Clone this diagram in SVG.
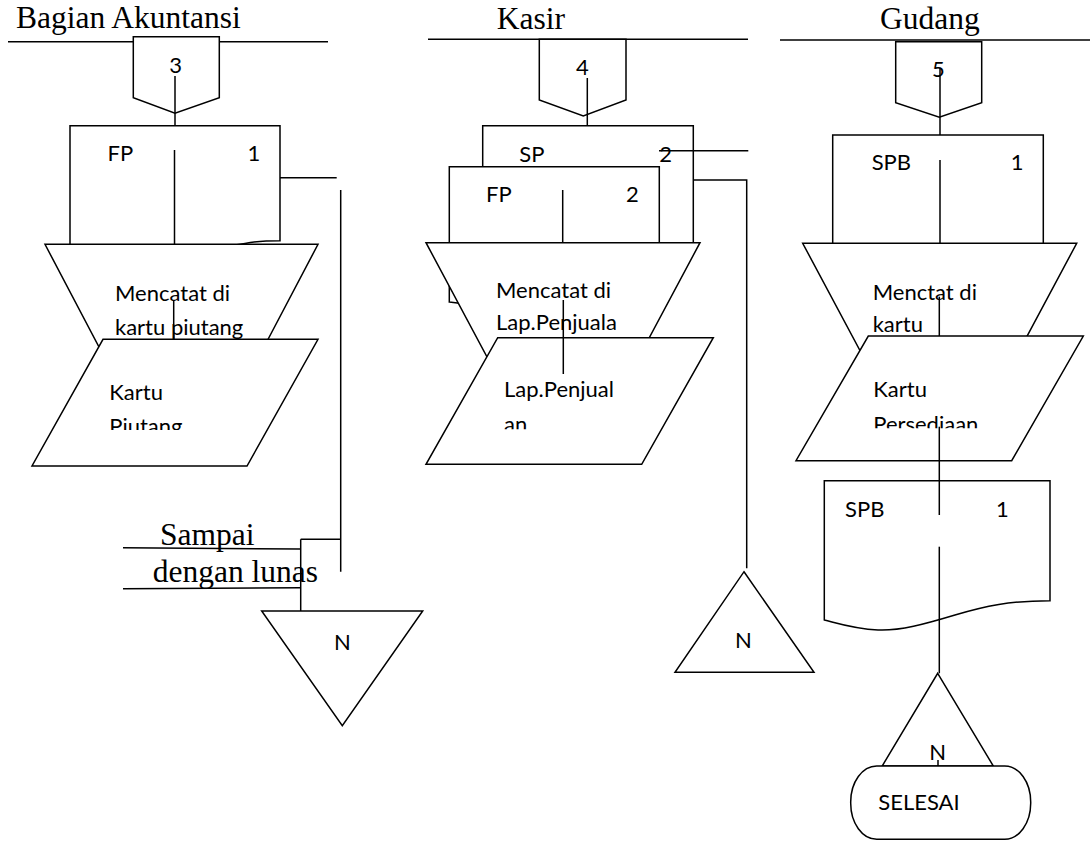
<svg xmlns="http://www.w3.org/2000/svg" width="1090" height="841" viewBox="0 0 1090 841">
<style>
.s{fill:#fff;stroke:#000;stroke-width:1.5}
.l{fill:none;stroke:#000;stroke-width:1.5}
.serif{font-family:"Liberation Serif","Times New Roman",serif;font-size:31.5px;fill:#000}
.sans{font-family:Lato,"Open Sans",sans-serif;font-size:22px;fill:#000}
.mid{text-anchor:middle}
</style>
<defs>
<clipPath id="c1"><rect x="30" y="340" width="290" height="90"/></clipPath>
<clipPath id="c2"><rect x="430" y="338" width="290" height="91.3"/></clipPath>
<clipPath id="c3"><rect x="800" y="337" width="290" height="91.3"/></clipPath>
</defs>
<rect width="1090" height="841" fill="#fff"/>

<g id="headers">
<text class="serif" x="16" y="28.3">Bagian Akuntansi</text>
<line class="l" x1="8" y1="41.7" x2="328" y2="41.7"/>
<text class="serif" x="496.7" y="29.3">Kasir</text>
<line class="l" x1="428" y1="39.3" x2="748" y2="39.3"/>
<text class="serif" x="880" y="29">Gudang</text>
<line class="l" x1="780" y1="40" x2="1090" y2="40"/>
</g>

<!-- Bagian Akuntansi -->
<g id="conn3">
<polygon class="s" points="133.3,36.7 219.3,36.7 219.3,97.7 175,113.3 133.3,97.7"/>
<text class="sans mid" x="175.7" y="72.7">3</text>
</g>
<g id="docFP1">
<path class="s" d="M70,125.7 H280 V240.7 C265,240.7 255,241.5 245,243.5 C200,252 120,250 70,246 Z"/>
<text class="sans" x="107.5" y="160.7">FP</text>
<text class="sans" x="247.5" y="160.7">1</text>
</g>
<g id="manual1">
<polygon class="s" points="45,244.3 318,244.3 251.9,370 111.1,370"/>
<text class="sans" x="115" y="300.5">Mencatat di</text>
<text class="sans" x="115" y="334.5">kartu piutang</text>
</g>
<g id="io1">
<polygon class="s" points="103,339.3 318,339.3 247,466 32,466"/>
<g clip-path="url(#c1)">
<text class="sans" x="109.3" y="400">Kartu</text>
<text class="sans" x="109.3" y="434">Piutang</text>
</g>
</g>
<g id="note1">
<text class="serif" x="160" y="545">Sampai</text>
<text class="serif" x="152.7" y="581.7">dengan lunas</text>
</g>
<g id="offN1">
<polygon class="s" points="261.7,611 422.7,611 342.3,725.7"/>
<text class="sans mid" x="342.3" y="650">N</text>
</g>

<!-- Kasir -->
<g id="conn4">
<polygon class="s" points="539.3,39.3 626,39.3 626,100 583.3,116 539.3,100"/>
<text class="sans mid" x="582.5" y="75">4</text>
</g>
<g id="docSP">
<path class="s" d="M482.7,125.7 H693.3 V250 C660,250 620,258 590,262 C550,266 510,258 482.7,256 Z"/>
<text class="sans" x="519.3" y="161.7">SP</text>
<text class="sans" x="659.3" y="161.7">2</text>
</g>
<g id="docFP2">
<path class="s" d="M449.3,166.7 H659.3 V290 C630,290 600,300 560,306 C520,310 480,306 449.3,302 Z"/>
<text class="sans" x="486" y="202">FP</text>
<text class="sans" x="626" y="202">2</text>
</g>
<g id="manual2">
<polygon class="s" points="426,242.7 700,242.7 632,370 494,370"/>
<text class="sans" x="496" y="298.3">Mencatat di</text>
<text class="sans" x="496" y="330">Lap.Penjuala</text>
</g>
<g id="io2">
<polygon class="s" points="497.7,337.7 713.3,337.7 641.7,464.3 426,464.3"/>
<g clip-path="url(#c2)">
<text class="sans" x="504" y="396.7">Lap.Penjual</text>
<text class="sans" x="504" y="432">an</text>
</g>
</g>
<g id="offN2">
<polygon class="s" points="744,571.7 814,672.3 675,672.3"/>
<text class="sans mid" x="743.5" y="647.7">N</text>
</g>

<!-- Gudang -->
<g id="conn5">
<polygon class="s" points="895.7,41.7 981.7,41.7 981.7,102.7 939.3,117.3 895.7,102.7"/>
<text class="sans mid" x="938.3" y="77.3">5</text>
</g>
<g id="docSPB1">
<path class="s" d="M832.7,135 H1043.3 V252 C1010,252 980,260 950,264 C910,268 870,260 832.7,258 Z"/>
<text class="sans" x="871.7" y="170">SPB</text>
<text class="sans" x="1010.7" y="170">1</text>
</g>
<g id="manual3">
<polygon class="s" points="802.7,243.3 1076.7,243.3 1009,370 870.4,370"/>
<text class="sans" x="872.7" y="300">Menctat di</text>
<text class="sans" x="872.7" y="331.7">kartu</text>
</g>
<g id="io3">
<polygon class="s" points="868.3,336 1083.3,336 1011.7,460.7 796,460.7"/>
<g clip-path="url(#c3)">
<text class="sans" x="873.3" y="396.7">Kartu</text>
<text class="sans" x="873.3" y="431.5">Persediaan</text>
</g>
</g>
<g id="docSPB2">
<path class="s" d="M824.3,480.7 H1050 V600.7 C1010,600.7 985,606 955,615 C925,624 900,631 878,630 C855,629 840,624 824.3,620 Z"/>
<text class="sans" x="845" y="516.7">SPB</text>
<text class="sans" x="996" y="516.7">1</text>
</g>
<g id="offN3">
<polygon class="s" points="937.7,673.3 993.3,766 882.2,766"/>
<text class="sans mid" x="937.7" y="760">N</text>
</g>
<g id="selesai">
<rect class="s" x="850.7" y="766" width="180" height="73.3" rx="26" ry="36"/>
<text class="sans" x="878.3" y="810">SELESAI</text>
</g>

<g id="connectors">
<!-- col 1 -->
<line class="l" x1="175" y1="76" x2="175" y2="125.7"/>
<line class="l" x1="174.5" y1="150" x2="174.5" y2="244.3"/>
<line class="l" x1="173.7" y1="300" x2="173.7" y2="339.3"/>
<line class="l" x1="280" y1="177.7" x2="336.7" y2="177.7"/>
<line class="l" x1="340.7" y1="190" x2="340.7" y2="571.7"/>
<line class="l" x1="300.7" y1="539.3" x2="340.7" y2="539.3"/>
<line class="l" x1="300.7" y1="539.3" x2="300.7" y2="611"/>
<line class="l" x1="123" y1="547.7" x2="300.7" y2="549"/>
<line class="l" x1="123" y1="588.7" x2="300.7" y2="587.7"/>
<!-- Kasir -->
<line class="l" x1="587.3" y1="78" x2="587.3" y2="125.7"/>
<line class="l" x1="659" y1="150.7" x2="748.3" y2="150.7"/>
<line class="l" x1="562.7" y1="190" x2="562.7" y2="242.7"/>
<line class="l" x1="563.3" y1="300" x2="563.3" y2="374"/>
<polyline class="l" points="693.3,180 746.7,180 746.7,568.3"/>
<!-- Gudang -->
<line class="l" x1="940" y1="68" x2="940" y2="135"/>
<line class="l" x1="940" y1="160" x2="940" y2="243.3"/>
<line class="l" x1="939.3" y1="296.7" x2="939.3" y2="336"/>
<line class="l" x1="939.3" y1="426.7" x2="939.3" y2="515"/>
<line class="l" x1="939.3" y1="546.7" x2="939.3" y2="673.3"/>
<line class="l" x1="938" y1="760" x2="938" y2="766"/>
</g>
</svg>
